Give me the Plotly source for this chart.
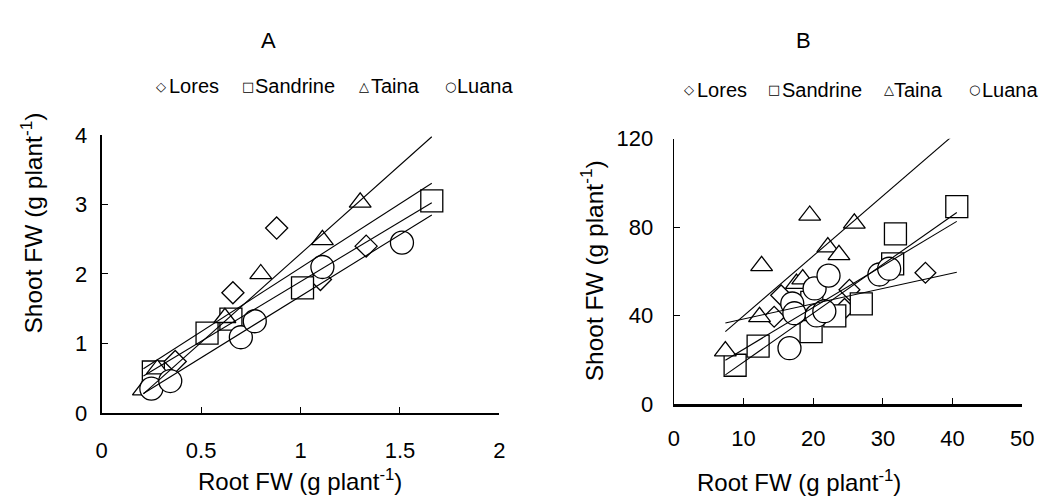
import plotly.graph_objects as go

# ---------------- data ----------------
series_names = ["Lores", "Sandrine", "Taina", "Luana"]
series_symbols = ["diamond", "square", "triangle-up", "circle"]

# Panel A : Root FW vs Shoot FW (g plant-1)
lores_a_x = [0.37, 0.66, 0.88, 1.10, 1.33]
lores_a_y = [0.74, 1.73, 2.66, 1.92, 2.40]
sandrine_a_x = [0.26, 0.53, 0.65, 1.01, 1.66]
sandrine_a_y = [0.59, 1.15, 1.35, 1.80, 3.05]
taina_a_x = [0.21, 0.28, 0.62, 0.80, 1.11, 1.30]
taina_a_y = [0.33, 0.63, 1.37, 2.00, 2.49, 3.03]
luana_a_x = [0.25, 0.345, 0.70, 0.77, 1.11, 1.51]
luana_a_y = [0.35, 0.46, 1.09, 1.32, 2.10, 2.45]

# Panel B
lores_b_x = [14.4, 15.4, 24.5, 25.2, 36.1]
lores_b_y = [39.5, 49.2, 43.1, 51.7, 59.4]
sandrine_b_x = [8.8, 12.1, 19.7, 19.8, 23.1, 26.9, 31.4, 31.8, 40.6]
sandrine_b_y = [17.6, 26.2, 32.8, 46.0, 39.9, 45.3, 63.4, 77.0, 89.3]
taina_b_x = [7.4, 12.3, 12.6, 17.6, 18.5, 19.5, 22.1, 23.7, 25.9]
taina_b_y = [24.0, 39.5, 62.5, 54.5, 56.5, 85.3, 71.0, 67.5, 81.7]
luana_b_x = [16.6, 17.0, 17.3, 20.2, 20.5, 21.6, 22.2, 29.5, 30.9]
luana_b_y = [25.3, 45.5, 41.1, 52.3, 40.1, 42.0, 58.1, 58.6, 61.2]

# linear trend lines (slope, intercept)
trend_a_slope = [1.84, 1.72, 2.55, 1.77]
trend_a_intercept = [0.25, 0.17, -0.26, -0.09]
trend_b_slope = [0.69, 2.21, 2.715, 1.89]
trend_b_intercept = [31.6, -3.1, 12.7, 5.9]

# axes ticks
a_xticks = [0, 0.5, 1, 1.5, 2]
a_xticktext = ["0", "0.5", "1", "1.5", "2"]
a_yticks = [0, 1, 2, 3, 4]
b_xticks = [0, 10, 20, 30, 40, 50]
b_yticks = [0, 40, 80, 120]

panel_titles = ["A", "B"]
x_title = "Root FW (g plant<sup>-1</sup>)"
y_title = "Shoot FW (g plant<sup>-1</sup>)"
legend_glyphs = ["\u25C7", "\u25A1", "\u25B3", "\u25CB"]

# ---------------- figure ----------------
W, H = 1052, 503
FONT = "Liberation Sans, Arial, sans-serif"

def px(x):
    return x / W

def py(y):
    return 1 - y / H

fig = go.Figure()

panels = [
    ("x", "y",
     [(lores_a_x, lores_a_y), (sandrine_a_x, sandrine_a_y), (taina_a_x, taina_a_y), (luana_a_x, luana_a_y)],
     trend_a_slope, trend_a_intercept,
     [17, 22, 19, 23]),
    ("x2", "y2",
     [(lores_b_x, lores_b_y), (sandrine_b_x, sandrine_b_y), (taina_b_x, taina_b_y), (luana_b_x, luana_b_y)],
     trend_b_slope, trend_b_intercept,
     [16, 22, 19, 23]),
]

for xa, ya, series, slopes, intercepts, sizes in panels:
    for (xs, ys), name, sym, sz in zip(series, series_names, series_symbols, sizes):
        fig.add_trace(go.Scatter(
            x=xs, y=ys, mode="markers", name=name, showlegend=False,
            xaxis=xa, yaxis=ya, cliponaxis=False,
            marker=dict(symbol=sym, size=sz, color="white",
                        line=dict(color="black", width=1.3)),
        ))
    all_x = [v for xs, _ in series for v in xs]
    x0, x1 = min(all_x), max(all_x)
    for s, b, name in zip(slopes, intercepts, series_names):
        fig.add_trace(go.Scatter(
            x=[x0, x1], y=[s * x0 + b, s * x1 + b], mode="lines",
            name=name + " trend", showlegend=False, xaxis=xa, yaxis=ya,
            line=dict(color="black", width=1.1), hoverinfo="skip",
        ))

axis_common = dict(showgrid=False, zeroline=False, showline=True, linecolor="black",
                   ticks="inside", tickcolor="black", ticklen=6,
                   tickfont=dict(family=FONT, size=22, color="black"))

fig.update_layout(
    width=W, height=H,
    margin=dict(l=0, r=0, t=0, b=0),
    paper_bgcolor="white", plot_bgcolor="white",
    font=dict(family=FONT, color="black"),
    showlegend=False,
    xaxis=dict(domain=[px(97.3), px(502)], range=[0, 2], tickvals=a_xticks, ticktext=a_xticktext,
               anchor="y", linewidth=1.5, ticklabelstandoff=17, **axis_common),
    yaxis=dict(domain=[py(422), py(129.3)], range=[0, 4], tickvals=a_yticks,
               anchor="x", linewidth=1.8, ticklabelstandoff=8, **axis_common),
    xaxis2=dict(domain=[px(679.4), px(1034)], range=[0, 50], tickvals=b_xticks,
                anchor="y2", linewidth=2.5, ticklabelstandoff=13, **axis_common),
    yaxis2=dict(domain=[py(412.7), py(133.3)], range=[0, 120], tickvals=b_yticks,
                anchor="x2", linewidth=1.2, ticklabelstandoff=15, **axis_common),
)

ann = []
# panel titles
for t, cx in zip(panel_titles, [267, 811]):
    ann.append(dict(text=t, x=px(cx), y=py(30), xref="paper", yref="paper",
                    xanchor="center", yanchor="middle", showarrow=False,
                    font=dict(family=FONT, size=22, color="black")))
# axis titles
for cx, cy in [(299, 492), (807, 494)]:
    ann.append(dict(text=x_title, x=px(cx), y=py(cy), xref="paper", yref="paper",
                    xanchor="center", yanchor="middle", showarrow=False,
                    font=dict(family=FONT, size=24, color="black")))
for cx, cy in [(26, 222), (596, 272)]:
    ann.append(dict(text=y_title, x=px(cx), y=py(cy), xref="paper", yref="paper",
                    xanchor="center", yanchor="middle", showarrow=False, textangle=-90,
                    font=dict(family=FONT, size=24.5, color="black")))
# legends (one per panel)
legend_a_sym = [158, 246, 364.7, 452]
legend_a_txt = [164, 251.5, 369, 457]
legend_b_sym = [695, 781, 898, 985]
legend_b_txt = [701, 787.5, 901.5, 990.5]
for syms, txts, ly in [(legend_a_sym, legend_a_txt, 78), (legend_b_sym, legend_b_txt, 82)]:
    for g, name, sx, tx in zip(legend_glyphs, series_names, syms, txts):
        ann.append(dict(text=g, x=px(sx), y=py(ly), xref="paper", yref="paper",
                        xanchor="center", yanchor="middle", showarrow=False,
                        font=dict(family="DejaVu Sans", size=13, color="black")))
        ann.append(dict(text=name, x=px(tx), y=py(ly), xref="paper", yref="paper",
                        xanchor="left", yanchor="middle", showarrow=False,
                        font=dict(family=FONT, size=20, color="black")))
fig.update_layout(annotations=ann)

fig.write_html("out.html", config={"displayModeBar": False},
               post_script="document.body.style.margin='0px';")
